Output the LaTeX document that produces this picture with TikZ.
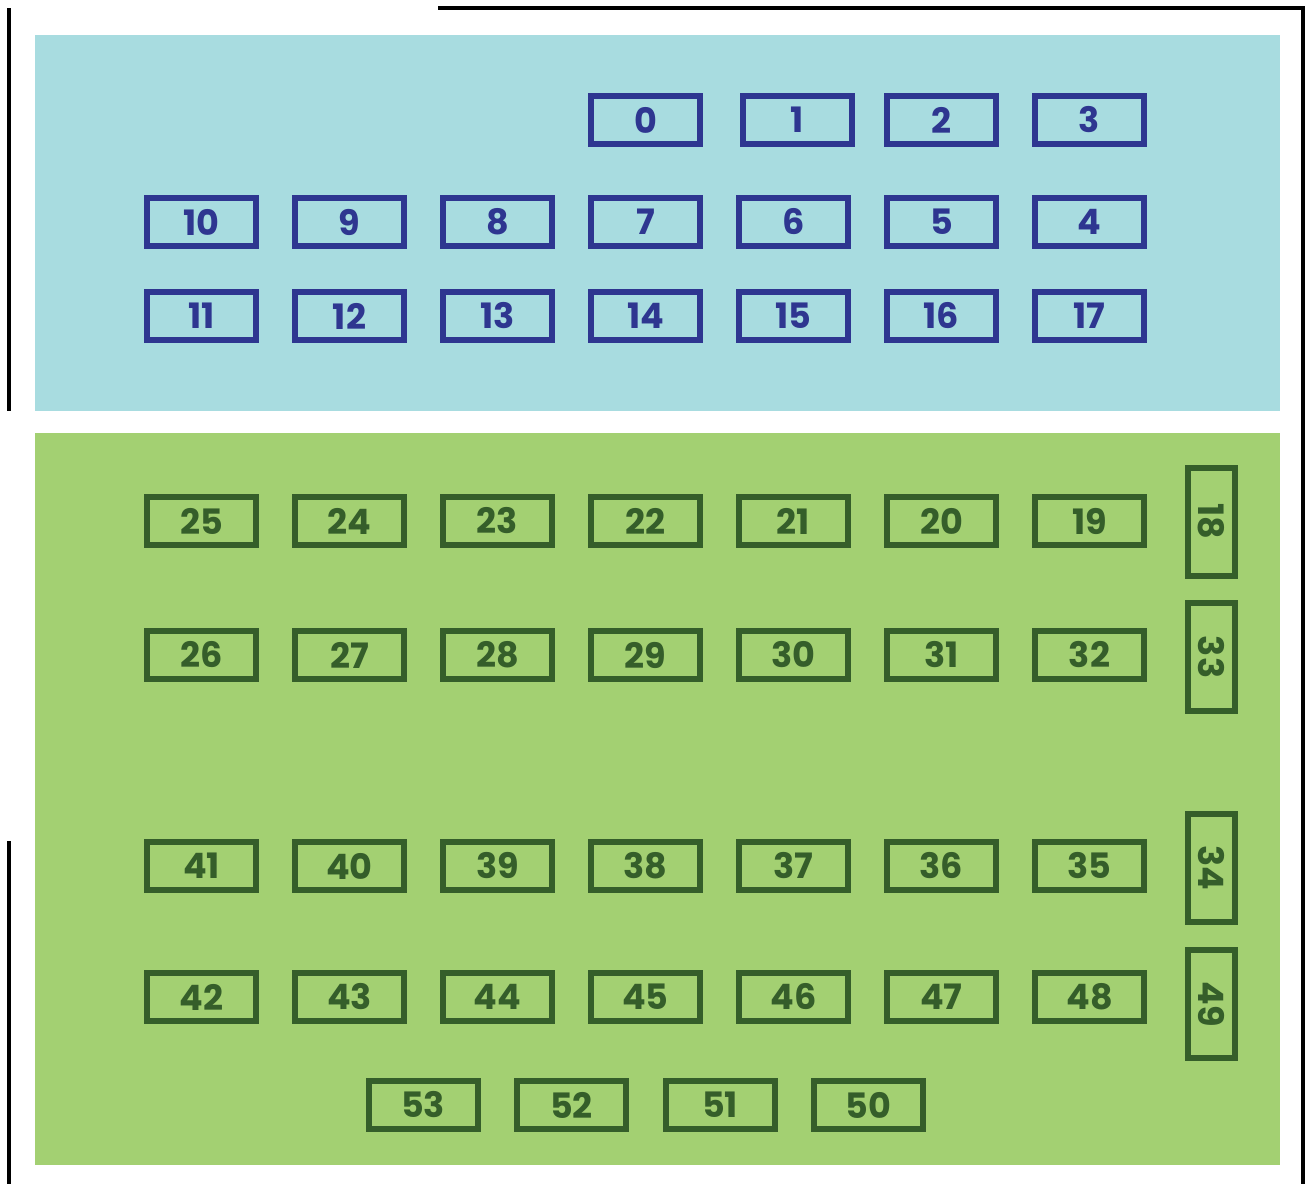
\documentclass[tikz,border=0pt]{standalone}
\usepackage{fontspec}
\setmainfont{Poppins}
\definecolor{bluebg}{HTML}{A8DCE0}
\definecolor{greenbg}{HTML}{A3D072}
\definecolor{blueline}{HTML}{2E3690}
\definecolor{greenline}{HTML}{355E2A}
\begin{document}
\begin{tikzpicture}[x=1pt,y=-1pt,
  seat/.style={draw, line width=6pt, minimum width=109pt, minimum height=48pt, inner sep=0pt, font=\fontsize{35}{35}\selectfont\bfseries},
  bseat/.style={seat, draw=blueline, text=blueline},
  gseat/.style={seat, draw=greenline, text=greenline},
  vseat/.style={draw=greenline, text=greenline, line width=6pt, minimum width=47pt, minimum height=108pt, inner sep=0pt},
  vtext/.style={text=greenline, rotate=-90, font=\fontsize{35}{35}\selectfont\bfseries, inner sep=0pt},
  wall/.style={draw=black, line width=3.2pt}]
\useasboundingbox (0,0) rectangle (1307,1184);
\fill[white] (0,0) rectangle (1307,1184);
% zones
\fill[bluebg] (35,35) rectangle (1280,411);
\fill[greenbg] (35,433) rectangle (1280,1165);
% walls
\coordinate (wa) at (9,8);
\coordinate (wb) at (9,411);
\coordinate (wc) at (438,8);
\coordinate (wd) at (1303,8);
\coordinate (we) at (1303,1184);
\coordinate (wf) at (9,841);
\coordinate (wg) at (9,1184);
\draw[wall] (wa) -- (wb);
\draw[wall] (wc) -- (wd) -- (we);
\draw[wall] (wf) -- (wg);
% blue top row
\node[bseat] (s0) at (645.5,120) {0};
\node[bseat] (s1) at (797.5,120) {1};
\node[bseat] (s2) at (941.5,120) {2};
\node[bseat] (s3) at (1089.5,120) {3};
% blue rows
\foreach \n [count=\i from 0] in {10,9,8,7,6,5,4} {
  \node[bseat] (s\n) at (201.5+148*\i,222) {\n};
}
\foreach \n [count=\i from 0] in {11,12,13,14,15,16,17} {
  \node[bseat] (s\n) at (201.5+148*\i,316) {\n};
}
% green rows
\foreach \n [count=\i from 0] in {25,24,23,22,21,20,19} {
  \node[gseat] (s\n) at (201.5+148*\i,521) {\n};
}
\foreach \n [count=\i from 0] in {26,27,28,29,30,31,32} {
  \node[gseat] (s\n) at (201.5+148*\i,655) {\n};
}
\foreach \n [count=\i from 0] in {41,40,39,38,37,36,35} {
  \node[gseat] (s\n) at (201.5+148*\i,866) {\n};
}
\foreach \n [count=\i from 0] in {42,43,44,45,46,47,48} {
  \node[gseat] (s\n) at (201.5+148*\i,997) {\n};
}
\foreach \n [count=\i from 0] in {53,52,51,50} {
  \node[gseat] (s\n) at (423+148.5*\i,1105) {\n};
}
% vertical seats
\foreach \n/\y in {18/521.5,33/657,34/868,49/1004} {
  \node[vseat] (s\n) at (1211.5,\y) {};
  \node[vtext] (t\n) at (s\n.center) {\n};
}
\end{tikzpicture}
\end{document}
